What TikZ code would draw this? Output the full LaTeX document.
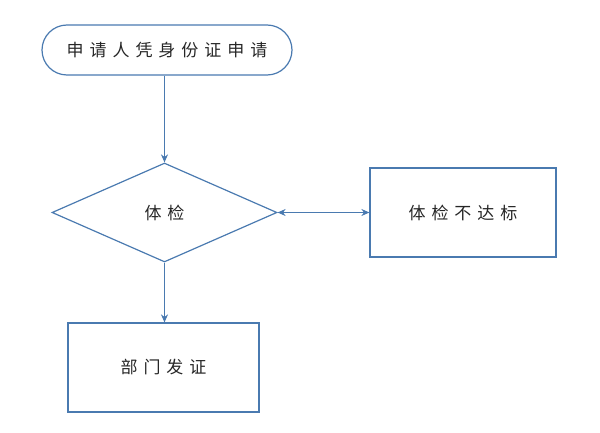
\documentclass[tikz,border=0pt]{standalone}
\usepackage{fontspec}
\newfontfamily\cjk[LetterSpace=35]{Noto Sans CJK SC}
\usetikzlibrary{shapes.geometric,arrows.meta}
\definecolor{ln}{HTML}{4A7AB0}
\begin{document}
\begin{tikzpicture}[x=1pt,y=-1pt,
  base/.style={draw=ln,line width=1.2pt,font=\cjk\fontsize{17}{20}\selectfont,text=black!85,inner sep=0pt},
  conn/.style={ln,line width=1.2pt,-{Stealth[length=8pt,width=7pt]}}]
\useasboundingbox (0,0) rectangle (600,433);
\node[base,rounded corners=25pt,minimum width=250pt,minimum height=50pt] (a) at (167,50) {申请人凭身份证申请};
\node[base,diamond,aspect=2.27,minimum width=225pt,minimum height=99pt] (d) at (164.5,212.5) {体检};
\node[base,minimum width=186pt,minimum height=89pt] (r) at (463,212.5) {体检不达标};
\node[base,minimum width=191pt,minimum height=89pt] (b) at (163.5,367.5) {部门发证};
\draw[conn] (a.south -| d.north) -- (d.north);
\draw[conn,{Stealth[length=8pt,width=7pt]}-{Stealth[length=8pt,width=7pt]}] (d.east) -- (r.west);
\draw[conn] (d.south) -- (d.south |- b.north);
\end{tikzpicture}
\end{document}
